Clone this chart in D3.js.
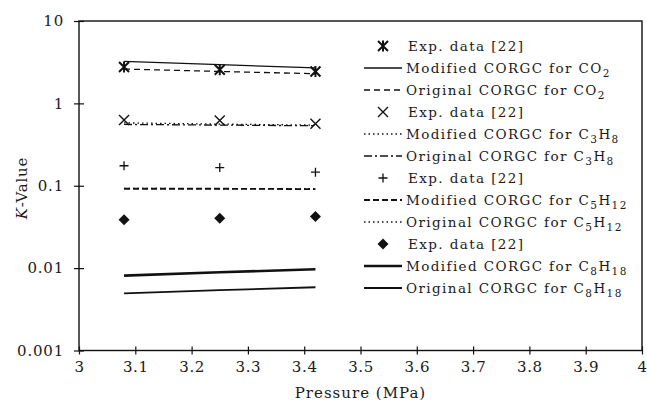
<!DOCTYPE html>
<html>
<head>
<meta charset="utf-8">
<script src="https://cdn.jsdelivr.net/npm/d3@7/dist/d3.min.js"></script>
<style>
  html, body { margin: 0; padding: 0; background: #fff; }
  svg { display: block; }
  text { font-family: "DejaVu Serif", "Liberation Serif", serif; fill: #1a1a1a; }
</style>
</head>
<body>
<svg id="chart" width="647" height="407"></svg>
<script>
// Pressures (MPa) at which the K-values were measured / computed
const pressure = [3.08, 3.25, 3.42];

// CO2
const co2Exp  = [2.76, 2.56, 2.44];
const co2Mod  = [3.23, 2.95, 2.69];
const co2Orig = [2.61, 2.44, 2.29];
// C3H8
const c3Exp  = [0.63, 0.62, 0.565];
const c3Mod  = [0.58, 0.56, 0.545];
const c3Orig = [0.555, 0.545, 0.535];
// C5H12
const c5Exp  = [0.175, 0.166, 0.146];
const c5Mod  = [0.092, 0.092, 0.091];
const c5Orig = [0.093, 0.092, 0.092];
// C8H18
const c8Exp  = [0.0386, 0.0404, 0.0423];
const c8Mod  = [0.0081, 0.0089, 0.0097];
const c8Orig = [0.00495, 0.0054, 0.00586];

// Axis ticks
const xTicks = [3, 3.1, 3.2, 3.3, 3.4, 3.5, 3.6, 3.7, 3.8, 3.9, 4];
const xTickLabels = ["3", "3.1", "3.2", "3.3", "3.4", "3.5", "3.6", "3.7", "3.8", "3.9", "4"];
const yTicks = [0.001, 0.01, 0.1, 1, 10];
const yTickLabels = ["0.001", "0.01", "0.1", "1", "10"];

// Legend entries (formula pieces: [text, isSubscript])
const legendLabels = [
  { kind: "asterisk", label: [["Exp. data [22]", false]] },
  { kind: "modCO2",   label: [["Modified CORGC for CO", false], ["2", true]] },
  { kind: "origCO2",  label: [["Original CORGC for CO", false], ["2", true]] },
  { kind: "cross",    label: [["Exp. data [22]", false]] },
  { kind: "modC3",    label: [["Modified CORGC for C", false], ["3", true], ["H", false], ["8", true]] },
  { kind: "origC3",   label: [["Original CORGC for C", false], ["3", true], ["H", false], ["8", true]] },
  { kind: "plus",     label: [["Exp. data [22]", false]] },
  { kind: "modC5",    label: [["Modified CORGC for C", false], ["5", true], ["H", false], ["12", true]] },
  { kind: "origC5",   label: [["Original CORGC for C", false], ["5", true], ["H", false], ["12", true]] },
  { kind: "diamond",  label: [["Exp. data [22]", false]] },
  { kind: "modC8",    label: [["Modified CORGC for C", false], ["8", true], ["H", false], ["18", true]] },
  { kind: "origC8",   label: [["Original CORGC for C", false], ["8", true], ["H", false], ["18", true]] }
];

// Line styles for the model curves
const lineStyles = {
  modCO2:  { width: 1.3, dash: null },
  origCO2: { width: 1.3, dash: "6,4" },
  modC3:   { width: 1.3, dash: "1.5,3" },
  origC3:  { width: 1.3, dash: "8,3,2,3" },
  modC5:   { width: 1.8, dash: "6,3" },
  origC5:  { width: 1.3, dash: "1.5,3" },
  modC8:   { width: 2.6, dash: null },
  origC8:  { width: 1.8, dash: null }
};

const lineSeries = [
  { kind: "modCO2",  values: co2Mod },
  { kind: "origCO2", values: co2Orig },
  { kind: "modC3",   values: c3Mod },
  { kind: "origC3",  values: c3Orig },
  { kind: "modC5",   values: c5Mod },
  { kind: "origC5",  values: c5Orig },
  { kind: "modC8",   values: c8Mod },
  { kind: "origC8",  values: c8Orig }
];
const pointSeries = [
  { kind: "asterisk", values: co2Exp },
  { kind: "cross",    values: c3Exp },
  { kind: "plus",     values: c5Exp },
  { kind: "diamond",  values: c8Exp }
];

const svg = d3.select("#chart");
const plot = { left: 79, right: 642, top: 21, bottom: 350.5 };
const serif = "'DejaVu Serif', 'Liberation Serif', serif";

const x = d3.scaleLinear().domain([3, 4]).range([plot.left, plot.right]);
const y = d3.scaleLog().domain([0.001, 10]).range([plot.bottom, plot.top]);

// Frame
svg.append("rect")
  .attr("x", plot.left).attr("y", plot.top)
  .attr("width", plot.right - plot.left).attr("height", plot.bottom - plot.top)
  .attr("fill", "none").attr("stroke", "#111").attr("stroke-width", 1.4);

// X axis
const xAxis = svg.append("g")
  .attr("transform", `translate(0,${plot.bottom})`)
  .call(d3.axisBottom(x).tickValues(xTicks)
    .tickFormat((d, i) => xTickLabels[i]).tickSizeOuter(0).tickPadding(5));
xAxis.attr("font-family", null);
xAxis.select(".domain").remove();
xAxis.selectAll(".tick line").attr("y1", -4).attr("y2", 4)
  .attr("stroke", "#111").attr("stroke-width", 1.2);
xAxis.selectAll(".tick text")
  .style("font-family", serif).style("font-size", "15px")
  .style("letter-spacing", "0.6px").attr("fill", "#1a1a1a");

// Y axis
const yAxis = svg.append("g")
  .attr("transform", `translate(${plot.left},0)`)
  .call(d3.axisLeft(y).tickValues(yTicks)
    .tickFormat((d, i) => yTickLabels[i]).tickSizeOuter(0).tickPadding(9));
yAxis.attr("font-family", null);
yAxis.select(".domain").remove();
yAxis.selectAll(".tick line").attr("x1", -5).attr("x2", 5)
  .attr("stroke", "#111").attr("stroke-width", 1.2);
yAxis.selectAll(".tick text")
  .style("font-family", serif).style("font-size", "15px")
  .style("letter-spacing", "0.8px").attr("fill", "#1a1a1a");

// Axis titles
svg.append("text")
  .attr("x", (plot.left + plot.right) / 2).attr("y", 398)
  .attr("text-anchor", "middle")
  .style("font-family", serif)
  .style("font-size", "15px").style("letter-spacing", "1px")
  .text("Pressure (MPa)");

const yTitle = svg.append("text")
  .attr("transform", "translate(27,188) rotate(-90)")
  .attr("text-anchor", "middle")
  .style("font-family", serif)
  .style("font-size", "15px").style("letter-spacing", "0.8px");
yTitle.append("tspan").style("font-style", "italic").text("K");
yTitle.append("tspan").text("-Value");

// Model curves
const line = d3.line().x((d, i) => x(pressure[i])).y(d => y(d));
const curves = svg.append("g").attr("fill", "none").attr("stroke", "#111");
lineSeries.forEach(s => {
  const st = lineStyles[s.kind];
  curves.append("path")
    .attr("d", line(s.values))
    .attr("stroke-width", st.width)
    .attr("stroke-dasharray", st.dash);
});

// Marker shapes
function drawMarker(g, kind) {
  if (kind === "asterisk") {
    g.append("path").attr("d", "M-5,-5L5,5M-5,5L5,-5M0,-5.5V5.5")
      .attr("stroke", "#111").attr("stroke-width", 2).attr("fill", "none");
  } else if (kind === "cross") {
    g.append("path").attr("d", "M-5,-5L5,5M-5,5L5,-5")
      .attr("stroke", "#111").attr("stroke-width", 1.4).attr("fill", "none");
  } else if (kind === "plus") {
    g.append("path").attr("d", "M-4.5,0H4.5M0,-4.5V4.5")
      .attr("stroke", "#111").attr("stroke-width", 1.3).attr("fill", "none");
  } else if (kind === "diamond") {
    g.append("path").attr("d", "M0,-5.5L5.5,0L0,5.5L-5.5,0Z")
      .attr("fill", "#111");
  }
}

const points = svg.append("g");
pointSeries.forEach(s => {
  s.values.forEach((v, i) => {
    const g = points.append("g")
      .attr("transform", `translate(${x(pressure[i])},${y(v)})`);
    drawMarker(g, s.kind);
  });
});

// Legend
const legend = svg.append("g");
const rowY = d3.scaleLinear().domain([0, legendLabels.length - 1]).range([46, 288]);
legendLabels.forEach((e, i) => {
  const cy = rowY(i);
  const row = legend.append("g").attr("transform", `translate(0,${cy})`);
  if (lineStyles[e.kind]) {
    const st = lineStyles[e.kind];
    row.append("line").attr("x1", 364).attr("x2", 402).attr("y1", 0).attr("y2", 0)
      .attr("stroke", "#111").attr("stroke-width", st.width)
      .attr("stroke-dasharray", st.dash);
  } else {
    const g = row.append("g").attr("transform", "translate(383,0)");
    drawMarker(g, e.kind);
  }
  const t = row.append("text")
    .attr("x", lineStyles[e.kind] ? 406 : 408).attr("y", 5)
    .style("font-family", serif)
    .style("font-size", "13.5px").style("letter-spacing", "1.4px");
  e.label.forEach(([str, sub], k) => {
    const ts = t.append("tspan").text(str);
    if (sub) ts.attr("dy", 4).style("font-size", "10.5px");
    else if (k > 0) ts.attr("dy", -4);
  });
});
</script>
</body>
</html>
